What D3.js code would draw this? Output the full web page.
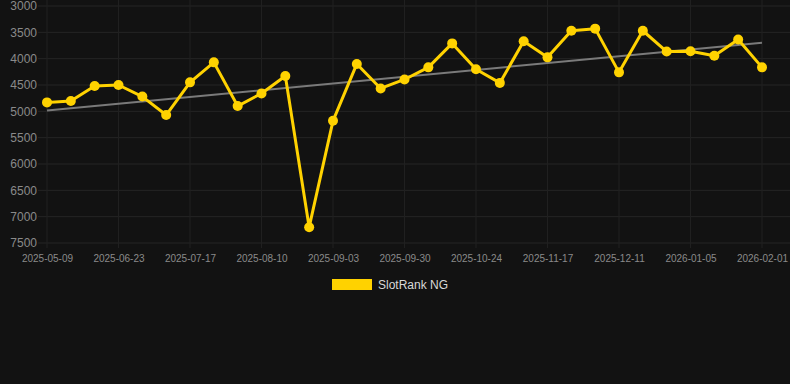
<!DOCTYPE html>
<html>
<head>
<meta charset="utf-8">
<script src="https://cdn.jsdelivr.net/npm/d3@7"></script>
<style>
  html, body { margin: 0; padding: 0; background: #121212; }
  svg { display: block; font-family: "Liberation Sans", Arial, sans-serif; }
</style>
</head>
<body>
<svg id="chart" width="790" height="384"></svg>
<script>
/* ===== DATA ===== */
const dates = [
  "2025-05-09", "2025-05-24", "2025-06-08", "2025-06-23", "2025-07-01", "2025-07-09",
  "2025-07-17", "2025-07-25", "2025-08-02", "2025-08-10", "2025-08-18", "2025-08-26",
  "2025-09-03", "2025-09-12", "2025-09-21", "2025-09-30", "2025-10-08", "2025-10-16",
  "2025-10-24", "2025-11-01", "2025-11-09", "2025-11-17", "2025-11-25", "2025-12-03",
  "2025-12-11", "2025-12-19", "2025-12-27", "2026-01-05", "2026-01-14", "2026-01-23",
  "2026-02-01"
];
const ranks = [
  4830, 4805, 4520, 4500, 4720, 5070, 4450, 4070, 4900, 4660, 4330,
  7200, 5180, 4100, 4565, 4395, 4165, 3710, 4200, 4460,
  3670, 3975, 3470, 3430, 4260, 3470, 3865, 3860, 3945, 3635, 4165
];
const yTicks = [3000, 3500, 4000, 4500, 5000, 5500, 6000, 6500, 7000, 7500];
const seriesName = "SlotRank NG";

/* ===== SETUP ===== */
const svg = d3.select("#chart");
const gold = "#FFD200";

const x = d3.scalePoint().domain(dates).range([47, 762]);
const y = d3.scaleLinear().domain([3000, 7500]).range([6, 243]);

/* ===== GRID ===== */
svg.append("g")
  .selectAll("line")
  .data(yTicks)
  .join("line")
  .attr("x1", 38).attr("x2", 790)
  .attr("y1", d => y(d)).attr("y2", d => y(d))
  .attr("stroke", "#252525").attr("stroke-width", 1);

const labelled = dates.filter((d, i) => i % 3 === 0);

svg.append("g")
  .selectAll("line")
  .data(labelled)
  .join("line")
  .attr("x1", d => x(d)).attr("x2", d => x(d))
  .attr("y1", 0).attr("y2", 248)
  .attr("stroke", "#202020").attr("stroke-width", 1);

/* ===== AXES ===== */
const yAxis = d3.axisLeft(y).tickValues(yTicks).tickFormat(d3.format("d"))
  .tickSize(0).tickPadding(0);
svg.append("g")
  .attr("transform", "translate(37,0)")
  .call(yAxis)
  .call(g => g.select(".domain").remove())
  .call(g => g.selectAll("text")
    .attr("fill", "#8a8a8a")
    .attr("font-size", 12)
    .attr("font-family", "Liberation Sans, Arial, sans-serif"));

const xAxis = d3.axisBottom(x).tickValues(labelled).tickSize(0).tickPadding(0);
svg.append("g")
  .attr("transform", "translate(0,255)")
  .call(xAxis)
  .call(g => g.select(".domain").remove())
  .call(g => g.selectAll("text")
    .attr("fill", "#8a8a8a")
    .attr("font-size", 10)
    .attr("font-family", "Liberation Sans, Arial, sans-serif"));

/* ===== TREND LINE (least squares) ===== */
const n = ranks.length;
const idx = d3.range(n);
const mx = d3.mean(idx), my = d3.mean(ranks);
const slope = d3.sum(idx, i => (i - mx) * (ranks[i] - my)) / d3.sum(idx, i => (i - mx) ** 2);
const icpt = my - slope * mx;

svg.append("line")
  .attr("x1", x(dates[0])).attr("y1", y(icpt))
  .attr("x2", x(dates[n - 1])).attr("y2", y(icpt + slope * (n - 1)))
  .attr("stroke", "#7a7a7a").attr("stroke-width", 2);

/* ===== SERIES ===== */
const line = d3.line()
  .x((d, i) => x(dates[i]))
  .y(d => y(d));

svg.append("path")
  .datum(ranks)
  .attr("d", line)
  .attr("fill", "none")
  .attr("stroke", gold)
  .attr("stroke-width", 3)
  .attr("stroke-linejoin", "round");

svg.append("g")
  .selectAll("circle")
  .data(ranks)
  .join("circle")
  .attr("cx", (d, i) => x(dates[i]))
  .attr("cy", d => y(d))
  .attr("r", 5)
  .attr("fill", gold);

/* ===== LEGEND ===== */
const legend = svg.append("g").attr("transform", "translate(332,279)");
legend.append("rect")
  .attr("width", 40).attr("height", 11)
  .attr("fill", gold);
legend.append("text")
  .attr("x", 46).attr("y", 10)
  .attr("fill", "#d8d8d8")
  .attr("font-size", 12)
  .text(seriesName);
</script>
</body>
</html>
